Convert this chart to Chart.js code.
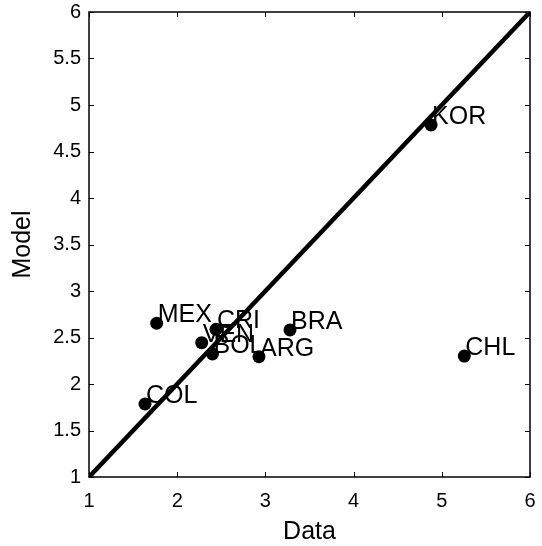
<!DOCTYPE html>
<html>
<head>
<meta charset="utf-8">
<script src="https://cdn.jsdelivr.net/npm/chart.js@4"></script>
<style>
html,body{margin:0;padding:0;background:#fff;}
#wrap{width:542px;height:546px;position:relative;}
</style>
</head>
<body>
<div id="wrap"><canvas id="c" width="542" height="546"></canvas></div>
<script>
const countries = ['COL','MEX','VEN','CRI','BOL','ARG','BRA','KOR','CHL'];
const dataValues = [1.635,1.767,2.278,2.44,2.40,2.927,3.279,4.878,5.255];
const modelValues = [1.785,2.653,2.444,2.588,2.323,2.294,2.581,4.785,2.30];
const lineX = [1,6];
const lineY = [1,6];
const xTicks = [1,2,3,4,5,6];
const yTicks = [1,1.5,2,2.5,3,3.5,4,4.5,5,5.5,6];

const FONT = "'Liberation Sans', Arial, Helvetica, sans-serif";

const pts = dataValues.map((v,i)=>({x:v,y:modelValues[i]}));
const linePts = lineX.map((v,i)=>({x:v,y:lineY[i]}));

const decor = {
  id:'decor',
  afterDraw(chart){
    const ctx = chart.ctx, a = chart.chartArea;
    const xs = chart.scales.x, ys = chart.scales.y;
    ctx.save();
    ctx.strokeStyle = '#000';
    ctx.lineWidth = 1.5;
    ctx.strokeRect(a.left, a.top, a.right-a.left, a.bottom-a.top);
    ctx.lineWidth = 1;
    const L = 5;
    ctx.beginPath();
    xs.ticks.forEach(t=>{
      const px = Math.round(xs.getPixelForValue(t.value))+0.5;
      ctx.moveTo(px,a.bottom); ctx.lineTo(px,a.bottom-L);
      ctx.moveTo(px,a.top); ctx.lineTo(px,a.top+L);
    });
    ys.ticks.forEach(t=>{
      const py = Math.round(ys.getPixelForValue(t.value))+0.5;
      ctx.moveTo(a.left,py); ctx.lineTo(a.left+L,py);
      ctx.moveTo(a.right,py); ctx.lineTo(a.right-L,py);
    });
    ctx.stroke();
    // point labels
    const meta = chart.getDatasetMeta(0);
    ctx.fillStyle = '#000';
    ctx.font = '25px ' + FONT;
    ctx.textAlign = 'left';
    ctx.textBaseline = 'middle';
    meta.data.forEach((el,i)=>{
      ctx.fillText(countries[i], el.x+1, el.y-8);
    });
    ctx.restore();
  }
};

new Chart(document.getElementById('c'), {
  type:'scatter',
  data:{
    datasets:[
      {
        label:'countries',
        data:pts,
        pointRadius:6.5,
        pointHoverRadius:6.5,
        backgroundColor:'#000',
        borderColor:'#000',
        borderWidth:0,
        order:2
      },
      {
        type:'line',
        label:'45 degree',
        data:linePts,
        borderColor:'#000',
        borderWidth:4.5,
        pointRadius:0,
        fill:false,
        tension:0,
        order:1
      }
    ]
  },
  options:{
    responsive:false,
    animation:false,
    devicePixelRatio:1,
    layout:{padding:{top:12,right:12,left:0,bottom:0}},
    plugins:{legend:{display:false},tooltip:{enabled:false}},
    scales:{
      x:{
        type:'linear',
        min:1,max:6,
        afterBuildTicks(s){ s.ticks = xTicks.map(v=>({value:v})); },
        afterFit(s){ s.height = 69; s.paddingLeft = 0; s.paddingRight = 0; },
        grid:{display:false,drawTicks:false},
        border:{display:false},
        ticks:{color:'#000',font:{family:FONT,size:20},padding:12,maxRotation:0,autoSkip:false,callback:v=>String(v)},
        title:{display:true,text:'Data',color:'#000',font:{family:FONT,size:25,lineHeight:1},padding:{top:0,bottom:1}}
      },
      y:{
        type:'linear',
        min:1,max:6,
        afterBuildTicks(s){ s.ticks = yTicks.map(v=>({value:v})); },
        afterFit(s){ s.width = 89; s.paddingTop = 0; s.paddingBottom = 0; },
        grid:{display:false,drawTicks:false},
        border:{display:false},
        ticks:{color:'#000',font:{family:FONT,size:20},padding:8,autoSkip:false,callback:v=>String(v)},
        title:{display:true,text:'Model',color:'#000',font:{family:FONT,size:25,lineHeight:1},padding:{top:11,bottom:0}}
      }
    }
  },
  plugins:[decor]
});
</script>
</body>
</html>
